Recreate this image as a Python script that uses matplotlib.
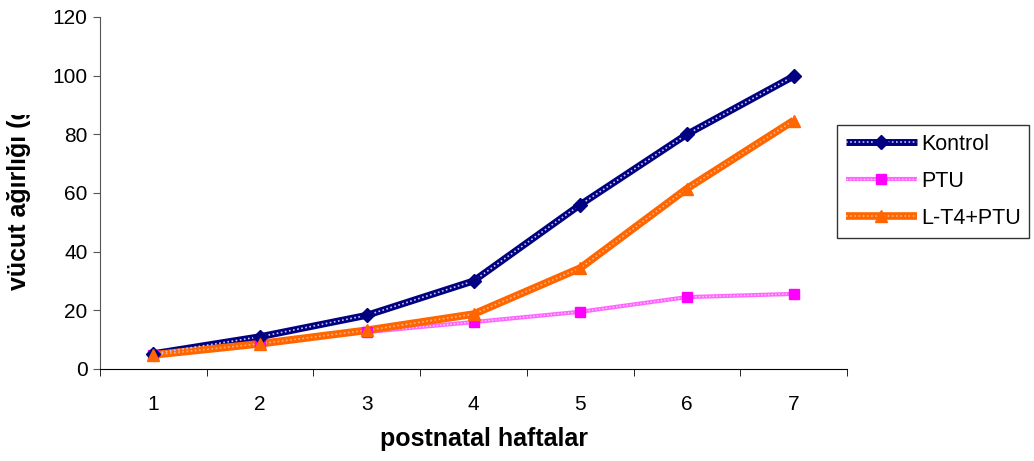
import matplotlib
matplotlib.use("Agg")
import matplotlib.pyplot as plt
from matplotlib.transforms import Bbox

plt.rcParams['font.family'] = ['Liberation Sans', 'DejaVu Sans']

weeks = [1, 2, 3, 4, 5, 6, 7]
week_labels = ['1', '2', '3', '4', '5', '6', '7']
kontrol = [5.2, 11.0, 18.3, 30.0, 56.0, 80.0, 99.8]
ptu = [4.8, 8.9, 12.6, 16.0, 19.5, 24.5, 25.6]
lt4_ptu = [4.8, 8.6, 13.2, 18.7, 34.4, 61.5, 84.7]

fig = plt.figure(figsize=(10.34, 4.61), dpi=100)
ax = fig.add_axes([0.0967, 0.1996, 0.7225, 0.7636])

# patterned thick lines: solid base with a thin light dotted overlay
dots = (0, (1, 1.5))
k1, = ax.plot(weeks, kontrol, color='#000080', lw=5, solid_capstyle='butt', zorder=3)
k2, = ax.plot(weeks, kontrol, color='#c8c8ff', lw=1.2, ls=dots, zorder=4)
k3, = ax.plot(weeks, kontrol, ls='none', marker='D', ms=7, color='#000080', zorder=6)

p1, = ax.plot(weeks, ptu, color='#ff66ff', lw=3, solid_capstyle='butt', zorder=2)
p2, = ax.plot(weeks, ptu, color='#ffd0ff', lw=1, ls=dots, zorder=2.5)
p3, = ax.plot(weeks, ptu, ls='none', marker='s', ms=7, color='#ff00ff', zorder=5)

o1, = ax.plot(weeks, lt4_ptu, color='#ff6600', lw=5.5, solid_capstyle='butt', zorder=3)
o2, = ax.plot(weeks, lt4_ptu, color='#ffb080', lw=1.2, ls=dots, zorder=4)
o3, = ax.plot(weeks, lt4_ptu, ls='none', marker='^', ms=9, color='#ff6600', zorder=6)

leg = fig.legend([(k1, k2, k3), (p1, p2, p3), (o1, o2, o3)],
                 ['Kontrol', 'PTU', 'L-T4+PTU'],
                 loc='upper left', bbox_to_anchor=(837 / 1034, 1 - 125 / 461),
                 fontsize=15.5, frameon=True, fancybox=False, borderpad=0.4,
                 handlelength=3.3, handletextpad=0.2, labelspacing=0.75,
                 borderaxespad=0)
leg.get_frame().set_edgecolor('black')
leg.get_frame().set_linewidth(1.0)

ax.set_xlim(0.5, 7.5)
ax.set_ylim(0, 120)
ax.set_yticks(range(0, 121, 20))
ax.set_xticks(weeks)
ax.set_xticklabels(week_labels)
ax.set_xticks([0.5 + i for i in range(8)], minor=True)
ax.tick_params(axis='x', which='major', length=0, pad=19, labelsize=15)
ax.tick_params(axis='x', which='minor', length=5, direction='out', color='black')
ax.tick_params(axis='y', length=5, direction='out', labelsize=15, pad=4, color='#555555')

for s in ['top', 'right']:
    ax.spines[s].set_visible(False)
ax.spines['left'].set_color('#555555')
ax.spines['bottom'].set_color('black')

ax.set_xlabel('postnatal haftalar', fontsize=18, fontweight='bold', va='top')
ax.xaxis.set_label_coords(0.514, -0.165)
ylab = ax.set_ylabel('vücut ağırlığı (g)', fontsize=18, fontweight='bold')
ax.yaxis.set_label_coords(-0.092, 0.5)
# the axis title is cut off at the top
ylab.set_clip_box(Bbox.from_extents(0, 0, 200, 461 - 115))
ylab.set_clip_on(True)

fig.savefig('out.png', dpi=100)
